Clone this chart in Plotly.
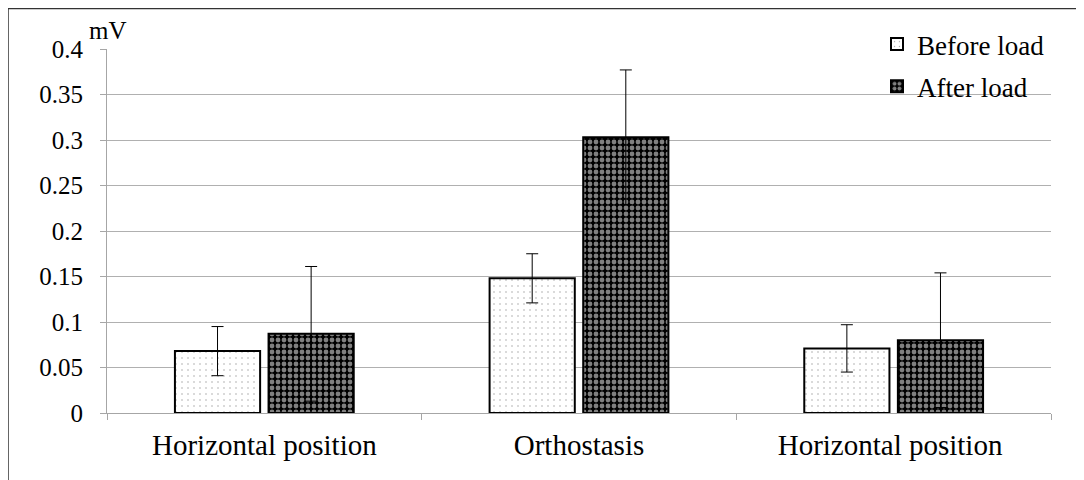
import plotly.graph_objects as go

categories = ["Horizontal position", "Orthostasis", "Horizontal position "]
before_vals = [0.068, 0.148, 0.071]
before_err = [0.027, 0.027, 0.026]
after_vals = [0.087, 0.303, 0.080]
after_err = [0.074, 0.074, 0.074]
y_ticks = [0, 0.05, 0.1, 0.15, 0.2, 0.25, 0.3, 0.35, 0.4]
y_ticklabels = ["0", "0.05", "0.1", "0.15", "0.2", "0.25", "0.3", "0.35", "0.4"]

FONT = "Liberation Serif, Tinos, Times New Roman, DejaVu Serif, serif"

W, H = 1076, 472
L, R, T, B = 99, 33, 41, 67
pw = W - L - R
ph = H - T - B

fig = go.Figure()
fig.add_trace(go.Bar(
    name="Before load", x=categories, y=before_vals, legendgroup="a",
    marker=dict(color="white", line=dict(color="black", width=2),
                pattern=dict(shape=".", fgcolor="#444444", bgcolor="white",
                             size=6, solidity=0.05, fillmode="overlay")),
    error_y=dict(type="data", array=before_err, visible=True,
                 color="black", thickness=1, width=6),
))
fig.add_trace(go.Bar(
    name="After load", x=categories, y=after_vals, legendgroup="b",
    marker=dict(color="black", line=dict(color="black", width=2),
                pattern=dict(shape=".", fgcolor="white", bgcolor="black",
                             size=6, solidity=0.5, fillmode="overlay")),
    error_y=dict(type="data", array=after_err, visible=True,
                 color="black", thickness=1, width=6),
))

fig.update_layout(
    width=W, height=H,
    margin=dict(l=L, r=R, t=T, b=B),
    paper_bgcolor="white", plot_bgcolor="white",
    font=dict(family=FONT, size=25, color="black"),
    barmode="group", bargap=0.405, bargroupgap=0.09,
    showlegend=True,
    legend=dict(x=(869 - L) / pw, y=1 + (41 - 12) / ph, xanchor="left", yanchor="top",
                bgcolor="rgba(0,0,0,0)", font=dict(size=27, family=FONT),
                tracegroupgap=4, itemwidth=30),
    xaxis=dict(showline=True, linecolor="#a6a6a6", linewidth=1,
               ticks="outside", tickson="boundaries", ticklen=6,
               tickcolor="#a6a6a6", showgrid=False, ticklabelstandoff=6,
               tickfont=dict(size=29, family=FONT)),
    yaxis=dict(range=[0, 0.4], tickvals=y_ticks, ticktext=y_ticklabels,
               showline=True, linecolor="#a6a6a6", linewidth=1,
               showgrid=True, gridcolor="#b0b0b0", gridwidth=1,
               ticks="outside", ticklen=6, tickcolor="#a6a6a6",
               ticklabelstandoff=12,
               zeroline=False, tickfont=dict(size=25, family=FONT)),
    shapes=[dict(type="rect", xref="paper", yref="paper",
                 x0=(0 - L) / pw, x1=(W + 10 - L) / pw,
                 y0=-(B + 10) / ph, y1=1 + (T - 0.5) / ph,
                 line=dict(color="#333333", width=1.5), fillcolor="rgba(0,0,0,0)",
                 layer="below")],
    annotations=[dict(text="mV", xref="paper", yref="paper",
                      x=(79 - L) / pw, y=1 + (41 - 38) / ph, xanchor="left", yanchor="bottom",
                      showarrow=False, font=dict(size=25, family=FONT))],
)

fig.write_html("out.html")
